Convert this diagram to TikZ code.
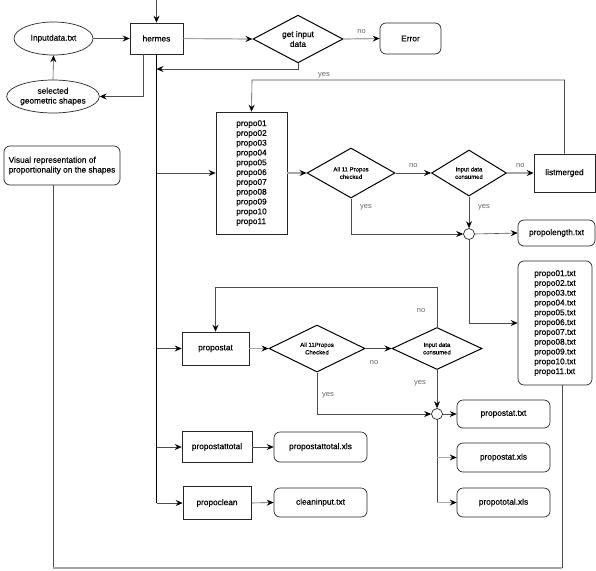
\documentclass[tikz,border=0pt]{standalone}
\usepackage{fontspec}
\setmainfont{Liberation Sans}
\newfontfamily\dfont{Liberation Sans}[FakeBold=0.35]
\usetikzlibrary{shapes.geometric,arrows.meta,calc}
\tikzset{
  base/.style={font=\dfont\fontsize{8.3}{9.8}\selectfont, inner sep=0pt, align=center},
  sqbox/.style={base, draw=black!85, line width=0.7pt, rectangle},
  rbox/.style={base, draw=black!85, line width=0.7pt, rectangle, rounded corners=6pt},
  ell/.style={base, draw=black!85, line width=0.7pt, ellipse},
  dia/.style={base, draw=black, line width=1pt, diamond, font=\dfont\fontsize{6}{7.5}\selectfont},
  dia2/.style={base, draw=black, line width=1pt, diamond, font=\dfont\fontsize{8.3}{9.8}\selectfont},
  junc/.style={draw=black!85, line width=0.7pt, circle, minimum size=11pt, inner sep=0pt, fill=white},
  tip/.style={-{Stealth[color=black,length=7pt,width=6pt,inset=2.5pt]}},
  conn/.style={draw=black!70, line width=0.6pt},
  aconn/.style={conn, tip},
  lconn/.style={draw=black!35, line width=1.2pt},
  alconn/.style={lconn, tip},
  spine/.style={draw=black, line width=1.2pt},
  lbl/.style={font=\fontsize{7.5}{9}\selectfont, text=black!60, inner sep=0pt}
}
\begin{document}
\begin{tikzpicture}[x=1pt,y=-1pt]
\useasboundingbox (0,0) rectangle (596,570);
% nodes
\node[ell, minimum width=79pt, minimum height=33pt] (in) at (53.5,38.5) {Inputdata.txt};
\node[ell, minimum width=78pt, minimum height=33pt] (sel) at (53,96.5) {selected\\geometric shapes};
\node[sqbox, minimum width=53pt, minimum height=31pt] (hermes) at (156.5,38.5) {hermes};
\node[dia2, minimum width=90pt, minimum height=46pt] (gid) at (298,39) {get input\\data};
\node[rbox, minimum width=61pt, minimum height=31pt] (err) at (410.5,38.5) {Error};
\node[rbox, minimum width=116pt, minimum height=39pt, align=left] (vis) at (62,165.5) {Visual representation of\\proportionality on the shapes};
\node[sqbox, minimum width=71pt, minimum height=122pt, align=left] (propo) at (251.5,173) {propo01\\propo02\\propo03\\propo04\\propo05\\propo06\\propo07\\propo08\\propo09\\propo10\\propo11};
\node[dia, minimum width=88pt, minimum height=50pt] (d1) at (351,173) {All 11 Propos\\checked};
\node[dia, minimum width=75pt, minimum height=46pt] (d2) at (469,173) {Input data\\consumed};
\node[sqbox, minimum width=61pt, minimum height=38pt] (lm) at (564.5,173) {listmerged};
\node[junc] (c1) at (469,234) {};
\node[rbox, minimum width=77pt, minimum height=26pt] (pl) at (556.5,233) {propolength.txt};
\node[rbox, minimum width=74pt, minimum height=124pt, align=left] (ptxt) at (555,323) {propo01.txt\\propo02.txt\\propo03.txt\\propo04.txt\\propo05.txt\\propo06.txt\\propo07.txt\\propo08.txt\\propo09.txt\\propo10.txt\\propo11.txt};
\node[sqbox, minimum width=67pt, minimum height=33pt] (pst) at (215.5,348.5) {propostat};
\node[dia, minimum width=96pt, minimum height=47pt] (d3) at (317,348.5) {All 11Propos\\Checked};
\node[dia, minimum width=90pt, minimum height=42pt] (d4) at (437,348.5) {Input data\\consumed};
\node[junc] (c2) at (437,414) {};
\node[rbox, minimum width=93pt, minimum height=28pt] (pt1) at (503.5,414) {propostat.txt};
\node[rbox, minimum width=93pt, minimum height=29pt] (pt2) at (503.5,457.5) {propostat.xls};
\node[rbox, minimum width=93pt, minimum height=29pt] (pt3) at (503.5,502.5) {propototal.xls};
\node[sqbox, minimum width=70pt, minimum height=31pt] (ptt) at (217,447) {propostattotal};
\node[rbox, minimum width=93pt, minimum height=30pt] (pttx) at (320.5,447) {propostattotal.xls};
\node[sqbox, minimum width=68pt, minimum height=33pt] (pcl) at (217,503) {propoclean};
\node[rbox, minimum width=93pt, minimum height=29pt] (ci) at (320.5,502.5) {cleaninput.txt};
% coordinates
\coordinate (top) at (156.5,0);
\coordinate (hsel) at (143,54);
\coordinate (spend) at (156.5,503);
\coordinate (yesj) at (156.5,69);
\coordinate (lmtop) at (252,80);
\coordinate (loop2) at (437,287);
\coordinate (c2end) at (437,502.5);
\coordinate (bl) at (53,568);
\coordinate (br) at (562,568);
% connectors
\draw[aconn] (top) -- (hermes.north);
\draw[aconn] (in.east) -- (hermes.west);
\draw[aconn] (sel.north) -- (in.south);
\draw[aconn] (hsel) |- (sel.east);
\draw[spine] (hermes.south) -- (spend);
\draw[alconn] (hermes.east) -- (gid.west);
\draw[alconn] (gid.east) -- node[lbl, above=5pt]{no} (err.west);
\draw[aconn] (gid.south) |- (yesj);
\node[lbl, anchor=west] (ly0) at (318,75) {yes};
\draw[aconn] (lm.north) |- (lmtop) -- (propo.north);
\draw[aconn] (hermes.south |- propo.west) -- (propo.west);
\draw[alconn] (propo.east) -- (d1.west);
\draw[aconn] (d1.east) -- node[lbl, above=5pt]{no} (d2.west);
\draw[alconn] (d2.east) -- node[lbl, above=5pt]{no} (lm.west);
\draw[aconn] (d1.south) |- (c1.west);
\node[lbl] (ly1) at (366,207) {yes};
\draw[aconn] (d2.south) -- (c1.north);
\node[lbl] (ly2) at (484,207) {yes};
\draw[aconn] (c1.east) -- (pl.west);
\draw[aconn] (c1.south) |- (ptxt.west);
\draw[aconn] (hermes.south |- pst.west) -- (pst.west);
\draw[alconn] (pst.east) -- (d3.west);
\draw[aconn] (d3.east) -- (d4.west);
\node[lbl] (ln3) at (374,363) {no};
\draw[aconn] (d4.north) |- (pst.north |- loop2) -- (pst.north);
\node[lbl] (ln4) at (421,311) {no};
\draw[aconn] (d4.south) -- (c2.north);
\node[lbl] (ly4) at (420,383) {yes};
\draw[aconn] (d3.south) |- (c2.west);
\node[lbl] (ly3) at (328,395) {yes};
\draw[aconn] (c2.east) -- (pt1.west);
\draw[conn] (c2.south) -- (c2end);
\draw[alconn] (c2.south |- pt2.west) -- (pt2.west);
\draw[alconn] (c2end) -- (pt3.west);
\draw[aconn] (hermes.south |- ptt.west) -- (ptt.west);
\draw[aconn] (ptt.east) -- (pttx.west);
\draw[aconn] (spend) -- (pcl.west);
\draw[aconn] (pcl.east) -- (ci.west);
\draw[conn] (vis.south -| bl) -- (bl);
\draw[conn] (br) -- (br |- ptxt.south);
\draw[lconn] (bl) -- (br);
\end{tikzpicture}
\end{document}
